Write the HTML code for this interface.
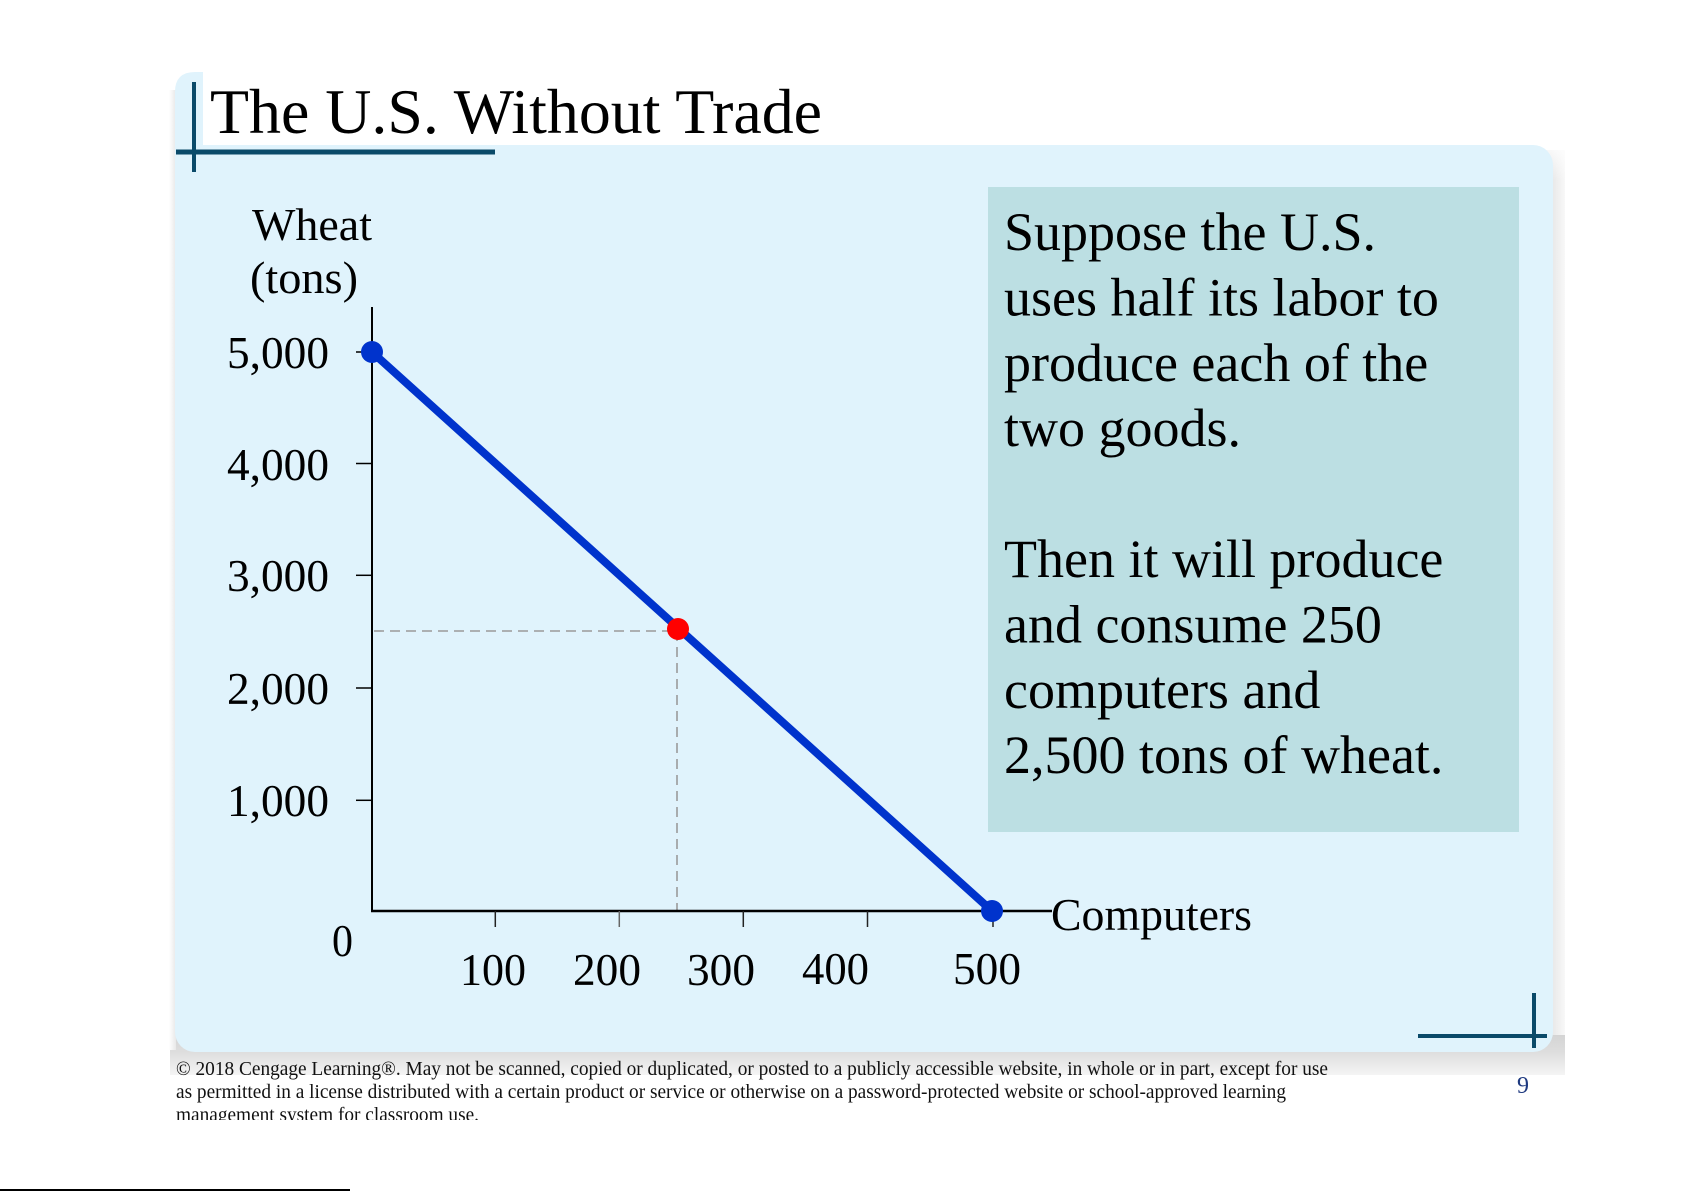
<!DOCTYPE html>
<html>
<head>
<meta charset="utf-8">
<style>
  html, body { margin:0; padding:0; background:#ffffff; }
  svg { display:block; }
  text { font-family: "Liberation Serif", "Times New Roman", serif; }
</style>
</head>
<body>
<svg width="1685" height="1191" viewBox="0 0 1685 1191" xmlns="http://www.w3.org/2000/svg">
  <defs>
    <linearGradient id="shR" x1="0" y1="0" x2="1" y2="0">
      <stop offset="0" stop-color="#d9d9d9"/>
      <stop offset="1" stop-color="#f8f8f8"/>
    </linearGradient>
    <linearGradient id="shRt" x1="0" y1="0" x2="0" y2="1">
      <stop offset="0" stop-color="#ffffff" stop-opacity="1"/>
      <stop offset="1" stop-color="#ffffff" stop-opacity="0"/>
    </linearGradient>
    <linearGradient id="shB" x1="0" y1="0" x2="0" y2="1">
      <stop offset="0" stop-color="#d4d4d4"/>
      <stop offset="0.45" stop-color="#dedede"/>
      <stop offset="1" stop-color="#f4f4f4"/>
    </linearGradient>
    <linearGradient id="shL" x1="1" y1="0" x2="0" y2="0">
      <stop offset="0" stop-color="#e8e8e8"/>
      <stop offset="1" stop-color="#ffffff"/>
    </linearGradient>
    <clipPath id="footClip"><rect x="0" y="1040" width="1685" height="80"/></clipPath>
  </defs>

  <!-- shadow bands -->
  <rect x="1540" y="150" width="25" height="925" fill="url(#shR)"/>
  <rect x="1540" y="140" width="25" height="40" fill="url(#shRt)"/>
  <rect x="170" y="1035" width="1395" height="40" fill="url(#shB)"/>
  <rect x="169" y="90" width="7" height="960" fill="url(#shL)"/>

  <!-- main panel -->
  <rect x="175" y="145" width="1378" height="907" rx="20" ry="20" fill="#e0f3fc"/>
  <!-- left strip up to title top -->
  <path d="M175,92 Q175,72 195,72 L203,72 L203,170 L175,170 Z" fill="#e0f3fc"/>

  <!-- title -->
  <text x="210" y="133" font-size="64" fill="#000" textLength="612" lengthAdjust="spacingAndGlyphs">The U.S. Without Trade</text>
  <rect x="192" y="82" width="4" height="90" fill="#0a4a69"/>
  <rect x="176" y="149.5" width="319" height="5" fill="#0a4a69"/>

  <!-- bottom-right cross -->
  <rect x="1532" y="993" width="4" height="55" fill="#0a4a69"/>
  <rect x="1418" y="1034" width="129" height="4" fill="#0a4a69"/>

  <!-- axis titles -->
  <text x="252" y="240" font-size="46" fill="#000" textLength="120" lengthAdjust="spacingAndGlyphs">Wheat</text>
  <text x="250" y="293" font-size="46" fill="#000" textLength="108" lengthAdjust="spacingAndGlyphs">(tons)</text>
  <text x="1051" y="930" font-size="46" fill="#000" textLength="201" lengthAdjust="spacingAndGlyphs">Computers</text>

  <!-- teal text box -->
  <rect x="988" y="187" width="531" height="645" fill="#bcdfe3"/>
  <g font-size="54" fill="#000">
    <text x="1004" y="250">Suppose the U.S.</text>
    <text x="1004" y="315.4">uses half its labor to</text>
    <text x="1004" y="380.8">produce each of the</text>
    <text x="1004" y="446.2">two goods.</text>
    <text x="1004" y="577">Then it will produce</text>
    <text x="1004" y="642.4">and consume 250</text>
    <text x="1004" y="707.8">computers and</text>
    <text x="1004" y="773.2">2,500 tons of wheat.</text>
  </g>

  <!-- dashed guides -->
  <line x1="374" y1="631" x2="678" y2="631" stroke="#9a9a9a" stroke-width="1.6" stroke-dasharray="10 6"/>
  <line x1="677" y1="631" x2="677" y2="910" stroke="#9a9a9a" stroke-width="1.6" stroke-dasharray="10 6"/>

  <!-- axes -->
  <line x1="372" y1="307" x2="372" y2="912" stroke="#000" stroke-width="2"/>
  <line x1="371" y1="911" x2="1052" y2="911" stroke="#000" stroke-width="2.5"/>

  <!-- y ticks -->
  <g stroke="#000" stroke-width="1.5">
    <line x1="356" y1="352" x2="372" y2="352"/>
    <line x1="356" y1="463.5" x2="372" y2="463.5"/>
    <line x1="356" y1="575.3" x2="372" y2="575.3"/>
    <line x1="356" y1="688" x2="372" y2="688"/>
    <line x1="356" y1="800.3" x2="372" y2="800.3"/>
  </g>
  <!-- x ticks -->
  <g stroke="#222" stroke-width="1.5">
    <line x1="495.3" y1="911" x2="495.3" y2="927"/>
    <line x1="619.3" y1="911" x2="619.3" y2="927" stroke="#666"/>
    <line x1="743.3" y1="911" x2="743.3" y2="927"/>
    <line x1="867.5" y1="911" x2="867.5" y2="927"/>
    <line x1="993" y1="911" x2="993" y2="927"/>
  </g>

  <!-- y labels -->
  <g font-size="45" fill="#000">
    <text x="227" y="368" textLength="102" lengthAdjust="spacingAndGlyphs">5,000</text>
    <text x="227" y="480" textLength="102" lengthAdjust="spacingAndGlyphs">4,000</text>
    <text x="227" y="591" textLength="102" lengthAdjust="spacingAndGlyphs">3,000</text>
    <text x="227" y="704" textLength="102" lengthAdjust="spacingAndGlyphs">2,000</text>
    <text x="227" y="816" textLength="102" lengthAdjust="spacingAndGlyphs">1,000</text>
  </g>
  <!-- x labels -->
  <g font-size="45" fill="#000">
    <text x="332" y="956" textLength="21" lengthAdjust="spacingAndGlyphs">0</text>
    <text x="460" y="985" textLength="66" lengthAdjust="spacingAndGlyphs">100</text>
    <text x="573" y="985" textLength="68" lengthAdjust="spacingAndGlyphs">200</text>
    <text x="687" y="985" textLength="68" lengthAdjust="spacingAndGlyphs">300</text>
    <text x="802" y="984" textLength="67" lengthAdjust="spacingAndGlyphs">400</text>
    <text x="953" y="984" textLength="68" lengthAdjust="spacingAndGlyphs">500</text>
  </g>

  <!-- PPF line -->
  <line x1="372" y1="352" x2="992" y2="911" stroke="#0033cc" stroke-width="8" stroke-linecap="round"/>
  <circle cx="372" cy="352" r="11" fill="#0033cc"/>
  <circle cx="992" cy="911" r="11" fill="#0033cc"/>
  <circle cx="678" cy="629" r="11" fill="#ff0000"/>

  <!-- footer -->
  <g font-size="19.5" fill="#111" clip-path="url(#footClip)">
    <text x="176" y="1075" textLength="1152" lengthAdjust="spacingAndGlyphs">© 2018 Cengage Learning®. May not be scanned, copied or duplicated, or posted to a publicly accessible website, in whole or in part, except for use</text>
    <text x="176" y="1098" textLength="1110" lengthAdjust="spacingAndGlyphs">as permitted in a license distributed with a certain product or service or otherwise on a password-protected website or school-approved learning</text>
    <text x="176" y="1121" textLength="303" lengthAdjust="spacingAndGlyphs">management system for classroom use.</text>
  </g>

  <!-- page number -->
  <text x="1523" y="1093" font-size="24" fill="#1f3a80" text-anchor="middle">9</text>

  <!-- bottom edge line -->
  <rect x="0" y="1189" width="350" height="2" fill="#000"/>
</svg>
</body>
</html>
